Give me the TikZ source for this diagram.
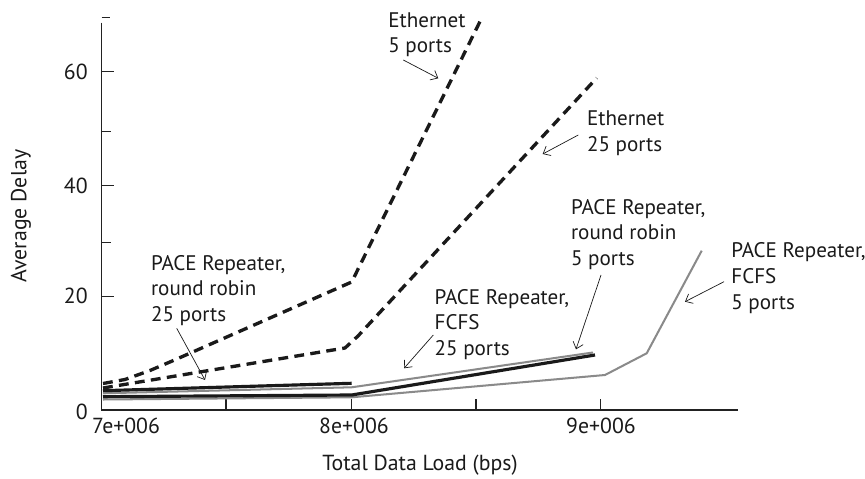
\documentclass[tikz,border=0pt]{standalone}
\usepackage{fontspec}
\setmainfont{PT Sans}
\usetikzlibrary{arrows.meta}
\definecolor{linegray}{HTML}{8A8A8A}
\definecolor{ink}{HTML}{1A1A1A}
\definecolor{axisc}{HTML}{222222}
\tikzset{
  lbl/.style={font=\fontsize{12}{14.7}\selectfont, align=left, anchor=north west, inner sep=0pt, text=ink},
  ticklbl/.style={font=\fontsize{12.4}{14.7}\selectfont, inner sep=0pt, text=ink},
  axisline/.style={draw=axisc, line width=0.75pt},
  ethline/.style={draw=ink, line width=1.9pt, dash pattern=on 5.6pt off 3.6pt, line join=round},
  blackline/.style={draw=ink, line width=1.8pt, line join=round},
  grayline/.style={draw=linegray, line width=1.15pt, line join=round},
  arr/.style={draw=ink, line width=0.4pt, -{Straight Barb[length=3.5pt,width=6pt]}}
}
\begin{document}
\begin{tikzpicture}[x=0.02cm,y=-0.02cm]
\useasboundingbox (0,0) rectangle (865,479);
% axes
\coordinate (o) at (101.7,410);
\coordinate (ytop) at (101.7,22.7);
\coordinate (xend) at (738,410);
\draw[axisline] (ytop) -- (o) -- (xend);
% y ticks
\foreach \yy in {71.7,185.7,296.3} \draw[axisline] (101.7,\yy) -- (114,\yy);
\foreach \yy in {131.7,242.7} \draw[axisline] (101.7,\yy) -- (111,\yy);
\draw[axisline] (101.7,17.3) -- (110,17.3);
% x ticks
\foreach \xx in {226,351.7,476,600.7} \draw[axisline] (\xx,410) -- (\xx,399);
% tick labels
\node[ticklbl, anchor=east] (y60) at (88,71.7) {60};
\node[ticklbl, anchor=east] (y40) at (88,185.7) {40};
\node[ticklbl, anchor=east] (y20) at (88,296.3) {20};
\node[ticklbl, anchor=east] (y0) at (88,412) {0};
\node[ticklbl] (x7) at (126,426) {7e+006};
\node[ticklbl] (x8) at (354,426) {8e+006};
\node[ticklbl] (x9) at (601,426) {9e+006};
% axis titles
\node[ticklbl] (xtitle) at (420,465) {Total Data Load (bps)};
\node[ticklbl, rotate=90] (ytitle) at (21,216) {Average Delay};
% data
\draw[grayline] (103,399.5) -- (351.7,397.3) -- (605,375) -- (646.7,353.3) -- (701.7,250.7);
\draw[grayline] (103,393.3) -- (351.7,387.3) -- (593,352.5);
\draw[blackline] (103,396.7) -- (351.7,395) -- (595,355);
\draw[blackline] (103,390.7) -- (351.7,383.3);
\draw[ethline] (103,388) -- (345,348) -- (358,336) -- (596.7,78);
\draw[ethline] (103,383.5) -- (125,379.5) -- (150,370.5) -- (175,359.8) -- (351.7,282) -- (481.7,18);
% labels
\node[lbl] (le5) at (388,12) {Ethernet\\5 ports};
\node[lbl] (le25) at (586.7,110.3) {Ethernet\\25 ports};
\node[lbl] (lrr5) at (570.7,198.7) {PACE Repeater,\\round robin\\5 ports};
\node[lbl] (lf5) at (731,242) {PACE Repeater,\\FCFS\\5 ports};
\node[lbl] (lf25) at (434.3,288.7) {PACE Repeater,\\FCFS\\25 ports};
\node[lbl] (lrr25) at (150.7,254.7) {PACE Repeater,\\round robin\\25 ports};
% arrows
\coordinate (a1s) at (403.3,60);   \coordinate (a1e) at (438.3,78.3);
\coordinate (a2s) at (578.3,135);  \coordinate (a2e) at (542.7,154);
\coordinate (a3s) at (601,275);    \coordinate (a3e) at (576,349.3);
\coordinate (a4s) at (724,281.7);  \coordinate (a4e) at (685,301.7);
\coordinate (a5s) at (433.3,335);  \coordinate (a5e) at (404,368.3);
\coordinate (a6s) at (176.7,328.3);\coordinate (a6e) at (205,380);
\draw[arr] (a1s) -- (a1e);
\draw[arr] (a2s) -- (a2e);
\draw[arr] (a3s) -- (a3e);
\draw[arr] (a4s) -- (a4e);
\draw[arr] (a5s) -- (a5e);
\draw[arr] (a6s) -- (a6e);
\end{tikzpicture}
\end{document}
